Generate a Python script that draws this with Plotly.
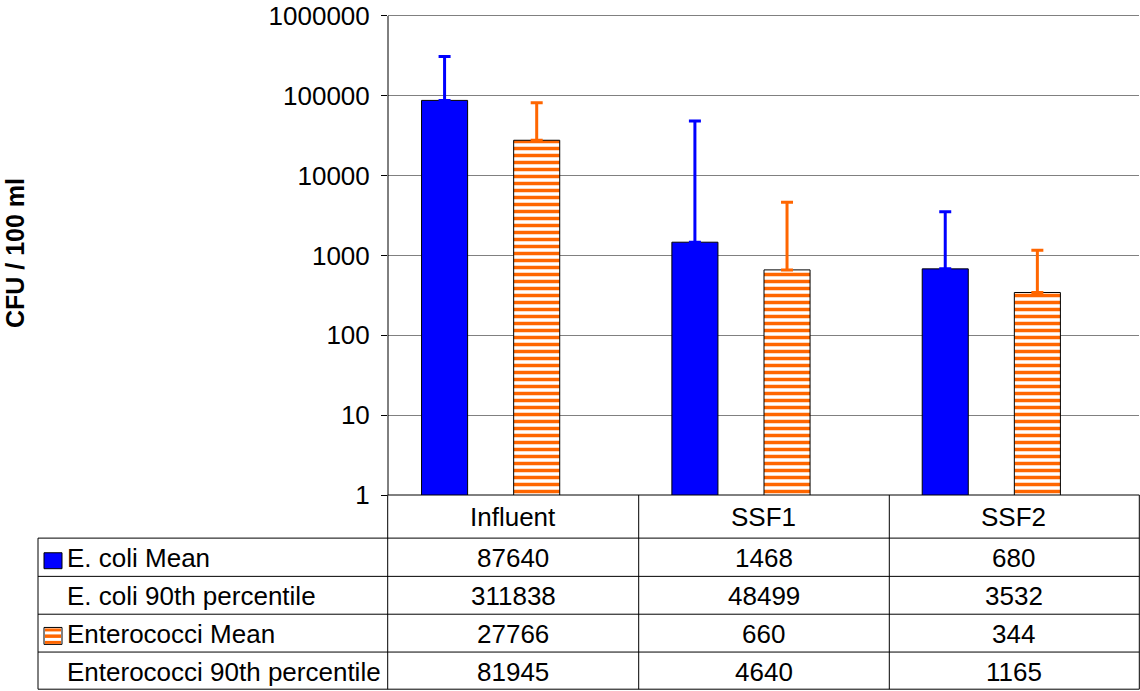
import plotly.graph_objects as go

categories = ["Influent", "SSF1", "SSF2"]
ecoli_mean = [87640, 1468, 680]
ecoli_p90 = [311838, 48499, 3532]
entero_mean = [27766, 660, 344]
entero_p90 = [81945, 4640, 1165]
row_labels = ["E. coli Mean", "E. coli 90th percentile",
              "Enterococci Mean", "Enterococci 90th percentile"]
y_ticks = [1, 10, 100, 1000, 10000, 100000, 1000000]

W, H = 1140, 691
L, R, T, B = 388, 1, 10, 196
FONT = "Liberation Sans, Arial, sans-serif"
FS = 26
BLUE = "#0000FF"
ORANGE = "#FF6600"


def px_x(x):
    return (x - L) / (W - L - R)


def px_y(y):
    return (H - B - y) / (H - B - T)


xs = list(range(len(categories)))
fig = go.Figure()
fig.add_trace(go.Bar(
    x=xs, y=ecoli_mean, name=row_labels[0], width=0.184, offset=-0.366,
    marker=dict(color=BLUE, line=dict(color="black", width=1)),
    error_y=dict(type="data", symmetric=False,
                 array=[p - m for p, m in zip(ecoli_p90, ecoli_mean)],
                 arrayminus=[0] * len(xs), color=BLUE, thickness=3, width=6),
))
fig.add_trace(go.Bar(
    x=xs, y=entero_mean, name=row_labels[2], width=0.184, offset=0.002,
    marker=dict(color="white", line=dict(color="black", width=1),
                pattern=dict(shape="-", fgcolor=ORANGE, bgcolor="white",
                             size=7, solidity=0.5, fillmode="replace")),
    error_y=dict(type="data", symmetric=False,
                 array=[p - m for p, m in zip(entero_p90, entero_mean)],
                 arrayminus=[0] * len(xs), color=ORANGE, thickness=3, width=6),
))

# data table under the plot
rows_y = [495, 538.3, 576.7, 614.7, 652.7, 690]
cols_x = [38, 387.7, 638.7, 889.3, 1139.3]
shapes = []
line = dict(color="black", width=1)
# y axis line only over the plotted decades (1 .. 1e6)
shapes.append(dict(type="line", xref="paper", yref="paper", x0=0, x1=0,
                   y0=px_y(14), y1=px_y(495), line=line))
shapes.append(dict(type="line", xref="paper", yref="paper", x0=px_x(387.7), x1=px_x(1139.3),
                   y0=px_y(495), y1=px_y(495), line=line))
for ry in rows_y[1:]:
    shapes.append(dict(type="line", xref="paper", yref="paper", x0=px_x(38), x1=px_x(1139.3),
                       y0=px_y(ry), y1=px_y(ry), line=line))
shapes.append(dict(type="line", xref="paper", yref="paper", x0=px_x(38), x1=px_x(38),
                   y0=px_y(538.3), y1=px_y(690), line=line))
for cx in cols_x[1:]:
    shapes.append(dict(type="line", xref="paper", yref="paper", x0=px_x(cx), x1=px_x(cx),
                       y0=px_y(495), y1=px_y(690), line=line))

# legend keys
shapes.append(dict(type="rect", xref="paper", yref="paper", x0=px_x(44), x1=px_x(62),
                   y0=px_y(569), y1=px_y(553), fillcolor=BLUE, line=line))
shapes.append(dict(type="rect", xref="paper", yref="paper", x0=px_x(44), x1=px_x(62),
                   y0=px_y(645), y1=px_y(628), fillcolor="white", line=line))
for s0, s1 in [(629, 632), (635, 638.5), (641.5, 644.5)]:
    shapes.append(dict(type="rect", xref="paper", yref="paper", x0=px_x(45), x1=px_x(61),
                       y0=px_y(s1), y1=px_y(s0), fillcolor=ORANGE, line=dict(width=0)))

annotations = []
tfont = dict(family=FONT, size=FS, color="black")
for i, c in enumerate(categories):
    annotations.append(dict(x=i, xref="x", y=px_y(517), yref="paper", text=c,
                            showarrow=False, font=tfont, xanchor="center", yanchor="middle"))
table_rows = [ecoli_mean, ecoli_p90, entero_mean, entero_p90]
for r, (lab, vals) in enumerate(zip(row_labels, table_rows)):
    cy = (rows_y[r + 1] + rows_y[r + 2]) / 2 + 1
    annotations.append(dict(x=px_x(65), xref="paper", y=px_y(cy), yref="paper", text=lab,
                            showarrow=False, font=tfont, xanchor="left", yanchor="middle"))
    for i, v in enumerate(vals):
        annotations.append(dict(x=i, xref="x", y=px_y(cy), yref="paper", text=str(v),
                                showarrow=False, font=tfont, xanchor="center", yanchor="middle"))
annotations.append(dict(x=px_x(15), xref="paper", y=px_y(252), yref="paper",
                        text="<b>CFU / 100 ml</b>", textangle=-90, showarrow=False,
                        font=dict(family=FONT, size=25, color="black"),
                        xanchor="center", yanchor="middle"))

fig.update_layout(
    width=W, height=H,
    margin=dict(l=L, r=R, t=T, b=B),
    paper_bgcolor="white", plot_bgcolor="white",
    showlegend=False,
    font=dict(family=FONT, size=FS, color="black"),
    shapes=shapes, annotations=annotations,
)
fig.update_xaxes(range=[-0.5, 2.5], showticklabels=False, showgrid=False, zeroline=False,
                 showline=False, ticks="")
fig.update_yaxes(type="log", range=[0, 6.05], tickvals=y_ticks, ticktext=[str(v) for v in y_ticks],
                 showgrid=True, gridcolor="#808080", gridwidth=1, showline=False,
                 ticks="outside", ticklen=6, tickcolor="black", ticklabelstandoff=6,
                 ticklabeloverflow="allow",
                 tickfont=dict(family=FONT, size=FS, color="black"), zeroline=False)

fig.write_html("out.html", config={"displayModeBar": False},
               post_script="document.body.style.margin='0';")
